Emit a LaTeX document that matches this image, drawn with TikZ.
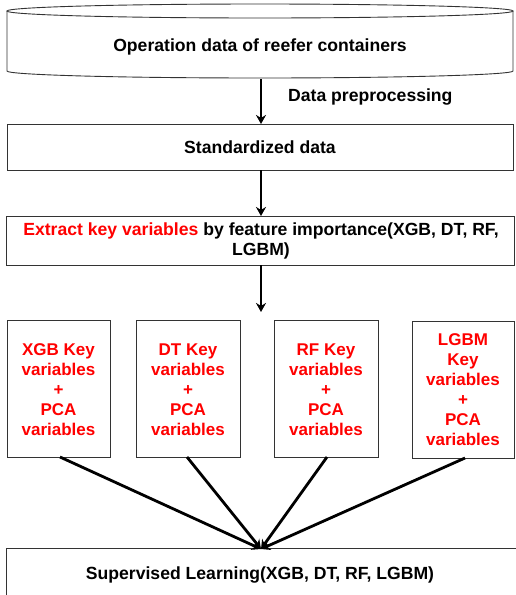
\documentclass[tikz,border=0pt]{standalone}
\usepackage{fontspec}
\setmainfont{Liberation Sans}
\usetikzlibrary{arrows.meta}
\definecolor{kred}{RGB}{255,0,0}
\tikzset{
  x=1pt, y=-1pt,
  txt/.style={font=\fontsize{17.6}{20}\selectfont\bfseries, align=center, inner sep=0pt},
  btxt/.style={font=\fontsize{17}{20}\selectfont\bfseries, align=center, inner sep=0pt, text=kred},
  boxline/.style={draw=black!80, line width=0.9pt},
  flow/.style={line width=2.8pt, -{Stealth[length=9pt,width=10pt]}},
}
\begin{document}
\begin{tikzpicture}
\useasboundingbox (0,0) rectangle (515,595);
% cylinder
\draw[boxline, fill=white] (7,11) -- (7,71) arc[start angle=180, end angle=0, x radius=253, y radius=7] -- (513,11);
\draw[boxline] (260,11) ellipse [x radius=253, y radius=7];
\node[txt] (src) at (260,47) {Operation data of reefer containers};
\coordinate (srcb) at (261,79);
% standardized
\draw[boxline] (7,124) rectangle (513,170);
\node[txt] (std) at (260,147) {Standardized data};
\coordinate (stdt) at (261,124);
\coordinate (stdb) at (261,170);
% extract
\draw[boxline] (6,216) rectangle (514,265);
\node[txt] (ext) at (261,241) {\textcolor{kred}{Extract key variables} by feature importance(XGB, DT, RF,\\LGBM)};
\coordinate (extt) at (261,216);
\coordinate (extb) at (261,265);
\coordinate (extend) at (261,312);
% four boxes
\draw[boxline] (7,320) rectangle (110,457);
\draw[boxline] (136,320) rectangle (240,457);
\draw[boxline] (274,320) rectangle (378,457);
\draw[boxline] (412,321) rectangle (514,458);
\node[btxt] (b1) at (58.5,389.5) {XGB Key\\variables\\+\\PCA\\variables};
\node[btxt] (b2) at (188,389.5) {DT Key\\variables\\+\\PCA\\variables};
\node[btxt] (b3) at (326,389.5) {RF Key\\variables\\+\\PCA\\variables};
\node[btxt] (b4) at (463,390) {LGBM\\Key\\variables\\+\\PCA\\variables};
\coordinate (b1s) at (60,457);
\coordinate (b2s) at (187,457);
\coordinate (b3s) at (327,457);
\coordinate (b4s) at (465,458);
% bottom
\draw[boxline] (6,548) rectangle (516,600);
\node[txt] (sup) at (260,575) {Supervised Learning(XGB, DT, RF, LGBM)};
\coordinate (supt) at (261,549);
% connectors
\draw[flow] (srcb) -- (stdt);
\node[txt, anchor=west] (dp) at (288,97) {Data preprocessing};
\draw[flow] (stdb) -- (extt);
\draw[flow] (extb) -- (extend);
\draw[flow] (b1s) -- (supt);
\draw[flow] (b2s) -- (supt);
\draw[flow] (b3s) -- (supt);
\draw[flow] (b4s) -- (supt);
\end{tikzpicture}
\end{document}
